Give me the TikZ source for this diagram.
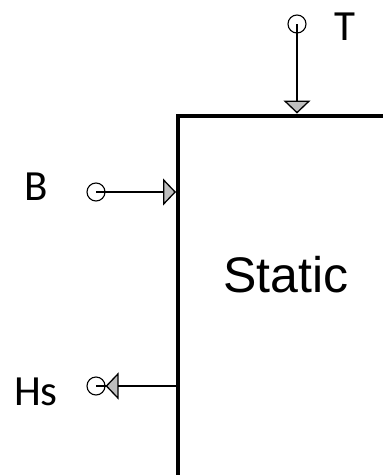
\documentclass[tikz,border=0pt]{standalone}
\usepackage{fontspec}
\usepackage{tikz}
\usetikzlibrary{arrows.meta, positioning}
\setmainfont{Liberation Sans}
\newfontfamily\portfont{Carlito}
\definecolor{tipgray}{RGB}{191,191,191}

\begin{document}
\begin{tikzpicture}[x=1pt, y=-1pt,
        port/.style={circle, draw, minimum size=18pt, inner sep=0pt, line width=1.1pt},
        plabel/.style={anchor=base, inner sep=0pt, font=\portfont\fontsize{43}{45}\selectfont},
        flow/.style={line width=1.3pt},
        tip/.style={-{Triangle[length=13pt, width=27pt, fill=tipgray]}}]
        \useasboundingbox (0,0) rectangle (383,475);
        \node[draw, line width=4pt, anchor=north west, minimum width=400pt, minimum height=500pt] (box) at (176,113.5) {};
        \node[anchor=base, inner sep=0pt, font=\fontsize{50}{52}\selectfont] (name) at (286,292) {Static};
        \node[port] (tport) at (297,24) {};
        \node[port] (bport) at (96,192) {};
        \node[port] (hsport) at (96,386) {};
        \node[plabel] (tlabel) at (345,40) {T};
        \node[plabel] (blabel) at (36,200) {B};
        \node[plabel] (hslabel) at (36,405) {Hs};
        \coordinate (hsin) at (hsport -| box.west);
        \draw[flow, tip] (tport.center) -- (tport |- box.north);
        \draw[flow, tip] (bport.center) -- (bport -| box.west);
        \draw[flow] (hsport.center) -- (hsin);
        \draw[flow, tip] (hsin) -- (hsport);
    \end{tikzpicture}
\end{document}
